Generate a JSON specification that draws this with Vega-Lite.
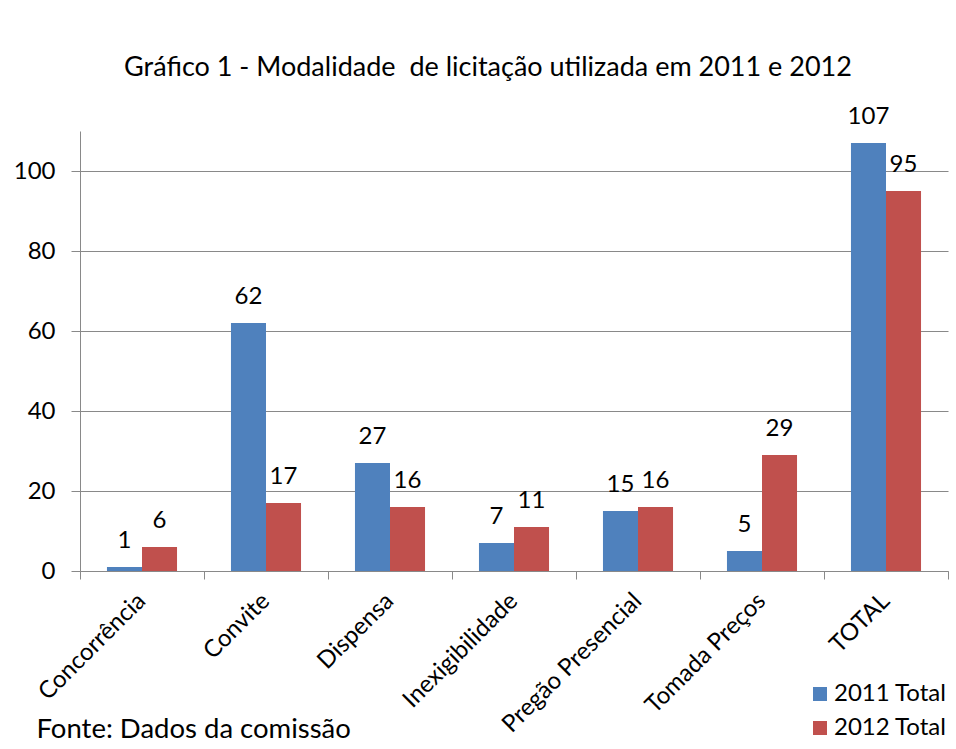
{
  "$schema": "https://vega.github.io/schema/vega-lite/v6.json",
  "width": 868,
  "height": 440,
  "autosize": {"type": "none"},
  "padding": {"left": 80, "top": 131, "right": 8, "bottom": 178},
  "background": "white",
  "title": {
    "text": "Gráfico 1 - Modalidade\u00a0 de licitação utilizada em 2011 e 2012",
    "font": "Lato", "fontSize": 27, "fontWeight": "normal", "color": "black",
    "anchor": "middle", "dx": -26, "offset": 23
  },
  "data": {
    "values": [
      {"cat": "Concorrência", "serie": "2011 Total", "v": 1},
      {"cat": "Concorrência", "serie": "2012 Total", "v": 6},
      {"cat": "Convite", "serie": "2011 Total", "v": 62},
      {"cat": "Convite", "serie": "2012 Total", "v": 17},
      {"cat": "Dispensa", "serie": "2011 Total", "v": 27},
      {"cat": "Dispensa", "serie": "2012 Total", "v": 16},
      {"cat": "Inexigibilidade", "serie": "2011 Total", "v": 7},
      {"cat": "Inexigibilidade", "serie": "2012 Total", "v": 11},
      {"cat": "Pregão Presencial", "serie": "2011 Total", "v": 15},
      {"cat": "Pregão Presencial", "serie": "2012 Total", "v": 16},
      {"cat": "Tomada Preços", "serie": "2011 Total", "v": 5},
      {"cat": "Tomada Preços", "serie": "2012 Total", "v": 29},
      {"cat": "TOTAL", "serie": "2011 Total", "v": 107},
      {"cat": "TOTAL", "serie": "2012 Total", "v": 95}
    ]
  },
  "encoding": {
    "x": {
      "field": "cat", "type": "nominal", "sort": null,
      "scale": {"paddingInner": 0, "paddingOuter": 0},
      "axis": {
        "title": "Fonte: Dados da comissão",
        "titleX": -44, "titleY": 166, "titleAlign": "left", "titleBaseline": "alphabetic",
        "titleFont": "Lato", "titleFontSize": 27.5, "titleFontWeight": "normal", "titleColor": "black",
        "labelAngle": -45, "labelAlign": "right", "labelBaseline": "middle", "labelLimit": 0,
        "labelFont": "Lato", "labelFontSize": 24, "labelColor": "black",
        "domainColor": "#898989", "tickColor": "#898989", "tickSize": 8,
        "bandPosition": 1, "tickExtra": true, "labelPadding": 18, "grid": false
      }
    },
    "xOffset": {
      "field": "serie", "type": "nominal",
      "scale": {"paddingInner": 0, "paddingOuter": 0.77}
    },
    "y": {
      "field": "v", "type": "quantitative",
      "scale": {"domain": [0, 110], "nice": false},
      "axis": {
        "title": null, "values": [0, 20, 40, 60, 80, 100], "grid": true,
        "gridColor": "#898989", "domainColor": "#898989", "tickColor": "#898989",
        "tickSize": 9, "labelPadding": 16, "labelFont": "Lato", "labelFontSize": 24, "labelColor": "black"
      }
    }
  },
  "layer": [
    {
      "mark": {"type": "bar"},
      "encoding": {
        "color": {
          "field": "serie", "type": "nominal",
          "scale": {"domain": ["2011 Total", "2012 Total"], "range": ["#4F81BD", "#C0504D"]},
          "legend": {
            "orient": "none", "legendX": 728, "legendY": 551, "title": null,
            "labelFont": "Lato", "labelFontSize": 24, "labelColor": "black", "labelOffset": 2,
            "symbolType": "square", "symbolSize": 196, "rowPadding": 10, "symbolStrokeWidth": 0
          }
        }
      }
    },
    {
      "mark": {"type": "text", "baseline": "alphabetic", "dy": -19, "font": "Lato", "fontSize": 24, "color": "black"},
      "encoding": {"text": {"field": "v", "type": "quantitative"}}
    }
  ],
  "config": {"view": {"stroke": null}}
}
